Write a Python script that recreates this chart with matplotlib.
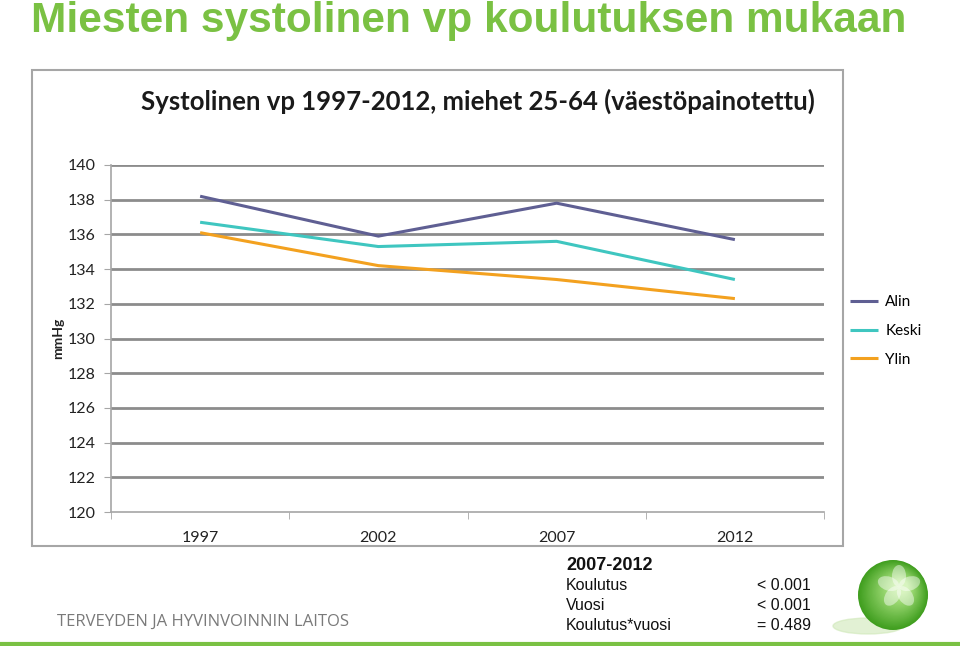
import matplotlib
matplotlib.use("Agg")
import matplotlib.pyplot as plt
from matplotlib.patches import Rectangle, Circle, Ellipse
import numpy as np

years = ["1997", "2002", "2007", "2012"]
alin = [138.2, 135.9, 137.8, 135.7]
keski = [136.7, 135.3, 135.6, 133.4]
ylin = [136.1, 134.2, 133.4, 132.3]
series_names = ["Alin", "Keski", "Ylin"]
yticks = list(range(120, 141, 2))

main_title = "Miesten systolinen vp koulutuksen mukaan"
chart_title = "Systolinen vp 1997-2012, miehet 25-64 (väestöpainotettu)"
ylabel = "mmHg"
stats_head = "2007-2012"
stats_labels = ["Koulutus", "Vuosi", "Koulutus*vuosi"]
stats_values = ["< 0.001", "< 0.001", "= 0.489"]
footer = "TERVEYDEN JA HYVINVOINNIN LAITOS"

colors = ["#5f5f93", "#3fc6c0", "#f3a11f"]
green = "#7ac143"

W, H = 960, 646
fig = plt.figure(figsize=(W / 100, H / 100), dpi=100)
fig.patch.set_facecolor("white")

def fx(px):
    return px / W

def fy(py):
    return 1 - py / H

# chart frame
fig.patches.append(Rectangle((fx(32), fy(546)), fx(843) - fx(32), fy(70) - fy(546),
                             transform=fig.transFigure, fill=False,
                             edgecolor="#a6a6a6", linewidth=1.5, zorder=0))

ax = fig.add_axes([fx(111), fy(512), fx(824) - fx(111), fy(165) - fy(512)])
x = np.arange(len(years))
for vals, name, c in zip([alin, keski, ylin], series_names, colors):
    ax.plot(x, vals, color=c, linewidth=2.2, label=name, solid_capstyle="butt", zorder=3)

tick_font = ["Lato", "DejaVu Sans"]
ax.set_xlim(-0.5, len(years) - 0.5)
ax.set_ylim(120, 140)
ax.set_yticks(yticks)
ax.set_yticklabels([str(v) for v in yticks], fontsize=11.5, color="#222222", family=tick_font)
for v in yticks[1:]:
    ax.axhline(v, color="#8c8c8c", linewidth=2, zorder=1)
ax.set_xticks(x)
ax.set_xticklabels(years, fontsize=11.5, color="#222222", family=tick_font)
ax.set_xticks(np.arange(-0.5, len(years), 1.0), minor=True)
ax.tick_params(axis="x", which="major", length=0, pad=14)
ax.tick_params(axis="x", which="minor", length=5, color="#a6a6a6", direction="out")
ax.tick_params(axis="y", length=5, color="#a6a6a6", pad=6)
for s in ["top", "right"]:
    ax.spines[s].set_visible(False)
ax.spines["left"].set_color("#a6a6a6")
ax.spines["bottom"].set_color("#a6a6a6")
ax.spines["left"].set_linewidth(1.2)
ax.spines["bottom"].set_linewidth(1.2)

fig.text(fx(58), fy(338), ylabel, rotation=90, ha="center", va="center",
         fontsize=10, fontweight="bold", color="#222222", family=tick_font)

leg = fig.legend(loc="center left", bbox_to_anchor=(fx(850), fy(331)), frameon=False,
                 handlelength=1.8, handletextpad=0.5, labelspacing=0.95,
                 borderpad=0, borderaxespad=0,
                 prop={"family": tick_font, "size": 11})

fig.text(fx(478), fy(101), chart_title, ha="center", va="center", fontsize=18.5,
         fontweight="bold", color="#1a1a1a", family=["Lato", "DejaVu Sans"])

fig.text(fx(31), fy(21), main_title, ha="left", va="center", fontsize=30.5,
         fontweight="bold", color=green, family=["Liberation Sans", "DejaVu Sans"])

# stats block
fig.text(fx(566), fy(565), stats_head, ha="left", va="center", fontsize=13,
         fontweight="bold", color="#111111", family=["Liberation Sans", "DejaVu Sans"])
for i, (lab, val) in enumerate(zip(stats_labels, stats_values)):
    yy = 586 + i * 19.5
    fig.text(fx(566), fy(yy), lab, ha="left", va="center", fontsize=11.5,
             color="#111111", family=["Liberation Sans", "DejaVu Sans"])
    fig.text(fx(757), fy(yy), val, ha="left", va="center", fontsize=11.5,
             color="#111111", family=["Liberation Sans", "DejaVu Sans"])

fig.text(fx(57), fy(622), footer, ha="left", va="center", fontsize=12,
         color="#7a7a7a", family=["Open Sans", "DejaVu Sans"])

# bottom green rule
fig.add_artist(plt.Line2D([0, 1], [fy(644), fy(644)], transform=fig.transFigure,
                          color=green, linewidth=3))

# logo sphere
lax = fig.add_axes([fx(830), fy(640), fx(935) - fx(830), fy(555) - fy(640)])
lax.set_xlim(0, 105)
lax.set_ylim(0, 85)
lax.set_aspect("equal")
lax.axis("off")
lax.add_patch(Ellipse((38, 14), 70, 16, color="#cfe8b8", alpha=0.6))
cx, cy, r = 63, 45, 35
for k in range(30):
    f = k / 29
    col = np.array([0.25, 0.62, 0.12]) * (1 - f) + np.array([0.72, 0.92, 0.55]) * f
    lax.add_patch(Circle((cx + 8 * f, cy + 8 * f), r * (1 - 0.8 * f), color=col, linewidth=0))
for ang in [90, 162, 234, 306, 18]:
    a = np.deg2rad(ang)
    lax.add_patch(Ellipse((cx + 6 + 11 * np.cos(a), cy + 8 + 11 * np.sin(a)), 14, 22,
                          angle=ang - 90, color="white", alpha=0.45, linewidth=0))

fig.savefig("out.png", dpi=100)
